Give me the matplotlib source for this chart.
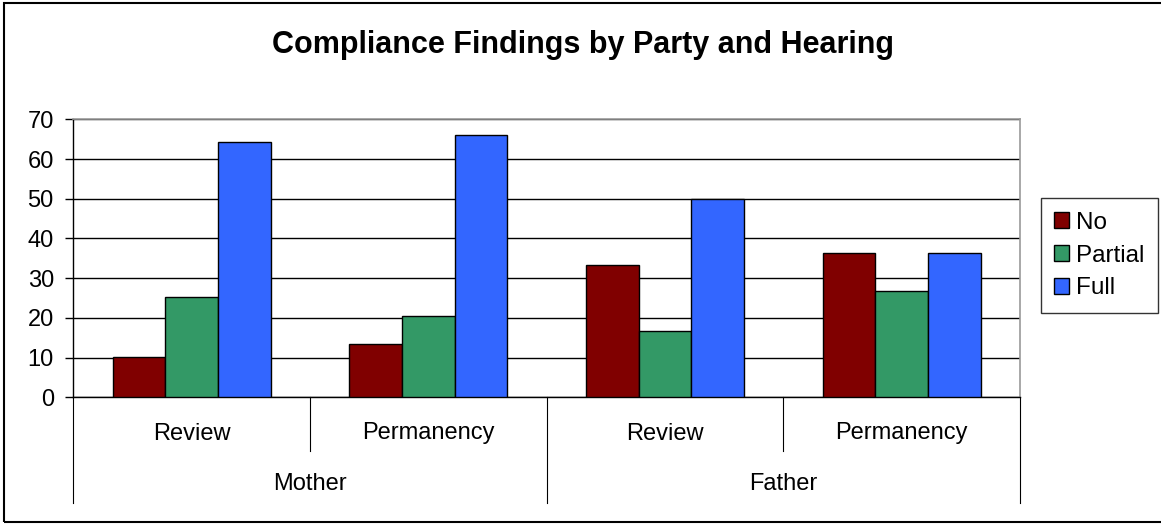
import matplotlib
matplotlib.use('Agg')
import matplotlib.pyplot as plt
import numpy as np
from matplotlib.patches import Rectangle
from matplotlib.lines import Line2D

plt.rcParams['font.family'] = ['Liberation Sans', 'DejaVu Sans']

# data
hearings = ['Review', 'Permanency', 'Review', 'Permanency']
parties = ['Mother', 'Father']
series = ['No', 'Partial', 'Full']
no_vals = [10.1, 13.3, 33.3, 36.4]
partial_vals = [25.3, 20.5, 16.7, 26.7]
full_vals = [64.3, 66.1, 50.0, 36.4]
colors = ['#800000', '#339966', '#3366FF']

W, H = 1161, 527
fig = plt.figure(figsize=(W / 100, H / 100), dpi=100)

# chart border
fig.patches.append(Rectangle((4 / W, 1 - 522 / H), 1.2, (522 - 3) / H, transform=fig.transFigure,
                             fill=False, edgecolor='black', linewidth=1.5))

left, right, top, bottom = 73.3, 1020, 119.3, 397.3
ax = fig.add_axes([left / W, 1 - bottom / H, (right - left) / W, (bottom - top) / H])

x = np.arange(len(hearings))
bw = 1 / 4.5
for i, (vals, name) in enumerate(zip([no_vals, partial_vals, full_vals], series)):
    ax.bar(x + (i - 1) * bw, vals, bw, color=colors[i], edgecolor='black', linewidth=1.0,
           label=name, zorder=3)

ax.set_xlim(-0.5, len(hearings) - 0.5)
ax.set_ylim(0, 70)
ax.set_yticks(range(0, 71, 10))
ax.yaxis.grid(True, color='black', linewidth=1.0, zorder=0)
ax.set_axisbelow(True)
ax.tick_params(axis='y', labelsize=17, length=6, width=1, direction='out', pad=8)
ax.set_xticks([])
for s in ['top', 'right']:
    ax.spines[s].set_color('#999999')
    ax.spines[s].set_linewidth(1.2)
ax.spines['left'].set_linewidth(1.0)
ax.spines['bottom'].set_linewidth(1.0)

# two-level category axis
trans = ax.get_xaxis_transform()
ph = bottom - top
short_y = -(451 - bottom) / ph
long_y = -(503 - bottom) / ph
for b in np.arange(-0.5, len(hearings), 1.0):
    is_long = (b + 0.5) % 2 == 0
    ax.add_line(Line2D([b, b], [0, long_y if is_long else short_y], transform=trans,
                       color='black', linewidth=0.8, clip_on=False))
for xi, h in zip(x, hearings):
    ax.text(xi, -(433.5 - bottom) / ph, h, transform=trans, ha='center', va='center', fontsize=17)
for j, p in enumerate(parties):
    ax.text(2 * j + 0.5, -(484 - bottom) / ph, p, transform=trans, ha='center', va='center', fontsize=17)

fig.text(583 / W, 1 - 45 / H, 'Compliance Findings by Party and Hearing', ha='center', va='center',
         fontsize=22, fontweight='bold')

leg = fig.legend(loc='center left', bbox_to_anchor=(1041 / W, 1 - 255.5 / H), fontsize=17.5,
                 frameon=True, fancybox=False, edgecolor='black', handlelength=0.6, handleheight=0.6,
                 handletextpad=0.3, labelspacing=0.45, borderpad=0.55, borderaxespad=0)
leg.get_frame().set_linewidth(1.0)

fig.savefig('out.png', dpi=100)
